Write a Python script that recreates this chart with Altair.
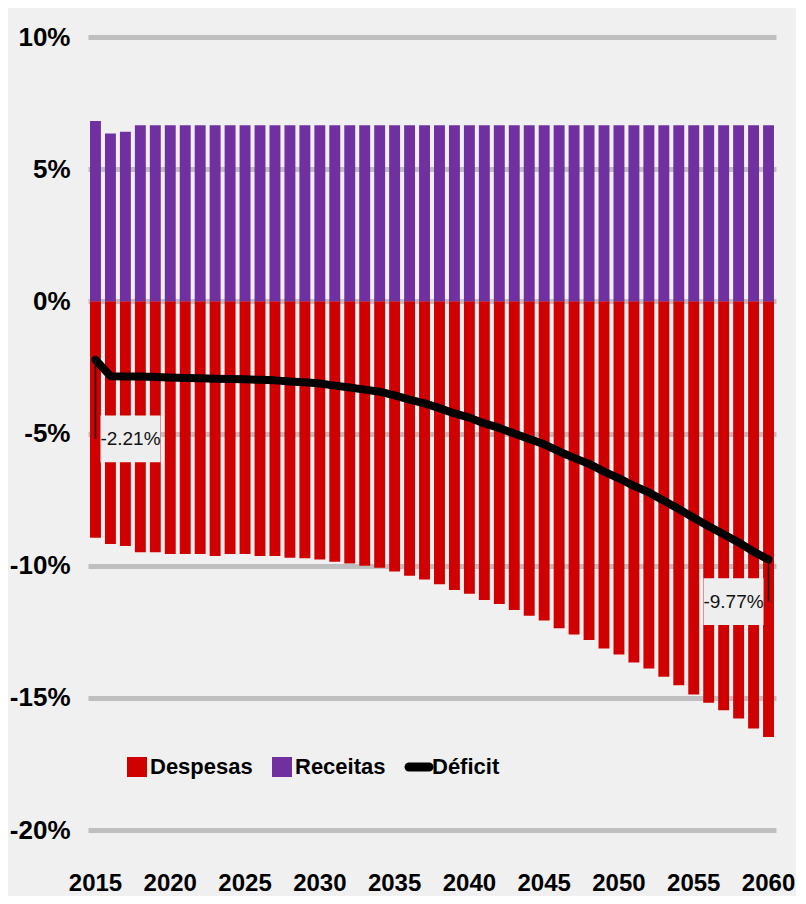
import altair as alt
import pandas as pd

anos = list(range(2015, 2061))

despesas = [-8.94, -9.18, -9.26, -9.49, -9.49, -9.56, -9.56, -9.56, -9.63, -9.56,
            -9.56, -9.63, -9.63, -9.70, -9.72, -9.77, -9.85, -9.92, -10.00, -10.08,
            -10.22, -10.38, -10.52, -10.70, -10.92, -11.06, -11.30, -11.45, -11.68, -11.89,
            -12.07, -12.37, -12.60, -12.81, -13.13, -13.36, -13.66, -13.89, -14.20, -14.52,
            -14.87, -15.19, -15.47, -15.78, -16.16, -16.48]

receitas = [6.82, 6.35, 6.42, 6.66, 6.66, 6.66, 6.66, 6.66, 6.66, 6.66,
            6.66, 6.66, 6.66, 6.66, 6.66, 6.66, 6.66, 6.66, 6.66, 6.66,
            6.66, 6.66, 6.66, 6.66, 6.66, 6.66, 6.66, 6.66, 6.66, 6.66,
            6.66, 6.66, 6.66, 6.66, 6.66, 6.66, 6.66, 6.66, 6.66, 6.66,
            6.66, 6.66, 6.66, 6.66, 6.66, 6.66]

deficit = [-2.21, -2.83, -2.84, -2.84, -2.86, -2.88, -2.90, -2.91, -2.93, -2.94,
           -2.95, -2.97, -2.99, -3.03, -3.06, -3.11, -3.19, -3.26, -3.34, -3.42,
           -3.56, -3.72, -3.86, -4.04, -4.24, -4.40, -4.62, -4.79, -5.00, -5.21,
           -5.41, -5.68, -5.92, -6.15, -6.44, -6.70, -6.98, -7.23, -7.54, -7.86,
           -8.19, -8.51, -8.81, -9.12, -9.47, -9.77]

series = ["Despesas", "Receitas", "Déficit"]
cores = ["#d00000", "#7030a0", "#000000"]

anos_eixo = [2015, 2020, 2025, 2030, 2035, 2040, 2045, 2050, 2055, 2060]
ticks_y = [-20, -15, -10, -5, 0, 5, 10]

rotulos_ano = [2015, 2060]
rotulos_valor = [-2.21, -9.77]
rotulos_texto = ["-2.21%", "-9.77%"]
rotulos_pos = [-5.2, -11.36]
rotulos_desloc = [35, -35]

FONT = "Liberation Sans, Arial, sans-serif"

df_desp = pd.DataFrame({"ano": anos, "valor": despesas})
df_rec = pd.DataFrame({"ano": anos, "valor": receitas})
df_line = pd.DataFrame({"ano": anos, "deficit": deficit})
df_leg = pd.DataFrame({"ano": anos + anos, "valor": despesas + receitas,
                       "serie": [series[0]] * len(anos) + [series[1]] * len(anos)})

x_enc = alt.X(
    "ano:O",
    scale=alt.Scale(paddingInner=0.27, paddingOuter=0.135),
    axis=alt.Axis(
        values=anos_eixo, labelAngle=0, title=None, domain=False, ticks=False,
        grid=False, labelFont=FONT, labelFontSize=24, labelFontWeight="bold",
        labelColor="black", labelPadding=41,
    ),
)
y_scale = alt.Scale(domain=[-20, 10], nice=False)
y_axis = alt.Axis(
    values=ticks_y, labelExpr="datum.value + '%'", title=None, domain=False,
    ticks=False, grid=True, gridColor="#bfbfbf", gridWidth=5,
    labelFont=FONT, labelFontSize=26, labelFontWeight="bold", labelColor="black",
    labelPadding=18,
)

pill = "M-1,-0.45 L1,-0.45 A0.45,0.45 0 0 1 1,0.45 L-1,0.45 A0.45,0.45 0 0 1 -1,-0.45 Z"
color_scale = alt.Scale(domain=series, range=cores)
leg = alt.Legend(
    title=None, orient="none", legendX=38, legendY=719,
    direction="horizontal", symbolSize=400, symbolStrokeWidth=0,
    symbolOpacity=1, labelFont=FONT, labelFontSize=22,
    labelFontWeight="bold", labelColor="black", labelOffset=2,
    columnPadding=18,
)

bars_desp = alt.Chart(df_desp).mark_bar(color=cores[0]).encode(
    x=x_enc, y=alt.Y("valor:Q", scale=y_scale, axis=y_axis))
bars_rec = alt.Chart(df_rec).mark_bar(color=cores[1]).encode(
    x="ano:O", y="valor:Q")

legend_layer = alt.Chart(df_leg).mark_point(filled=True, opacity=0).encode(
    x="ano:O",
    y="valor:Q",
    color=alt.Color("serie:N", scale=color_scale, legend=leg),
    shape=alt.Shape("serie:N",
                    scale=alt.Scale(domain=series, range=["square", "square", pill]),
                    legend=leg),
)

line = alt.Chart(df_line).mark_line(
    color="black", strokeWidth=8, strokeCap="round", strokeJoin="round"
).encode(x="ano:O", y="deficit:Q")

layers = [bars_desp, bars_rec, legend_layer, line]
for a, v, t, p, d in zip(rotulos_ano, rotulos_valor, rotulos_texto, rotulos_pos, rotulos_desloc):
    df_l = pd.DataFrame({"ano": [a], "valor": [v], "pos": [p], "texto": [t]})
    base = alt.Chart(df_l)
    layers.append(base.mark_rule(color="#111111", strokeWidth=1.5).encode(
        x="ano:O", y="valor:Q", y2="pos:Q"))
    layers.append(base.mark_point(
        shape="M-1,-0.78 H1 V0.78 H-1 Z", size=3600, filled=True,
        fill="#eeeeee", opacity=1, strokeWidth=0, xOffset=d,
    ).encode(x="ano:O", y="pos:Q"))
    layers.append(base.mark_text(
        font=FONT, fontSize=19, color="#111111", xOffset=d, baseline="middle",
        align="center",
    ).encode(x="ano:O", y="pos:Q", text="texto:N"))

chart = alt.layer(*layers).properties(
    width=688, height=793,
    autosize=alt.AutoSizeParams(type="none"),
    padding={"left": 80, "top": 29, "right": 20, "bottom": 66},
    background="#f0f0f0",
).configure_view(stroke=None)

chart.save("out.html", embed_options={"renderer": "svg", "actions": False})
